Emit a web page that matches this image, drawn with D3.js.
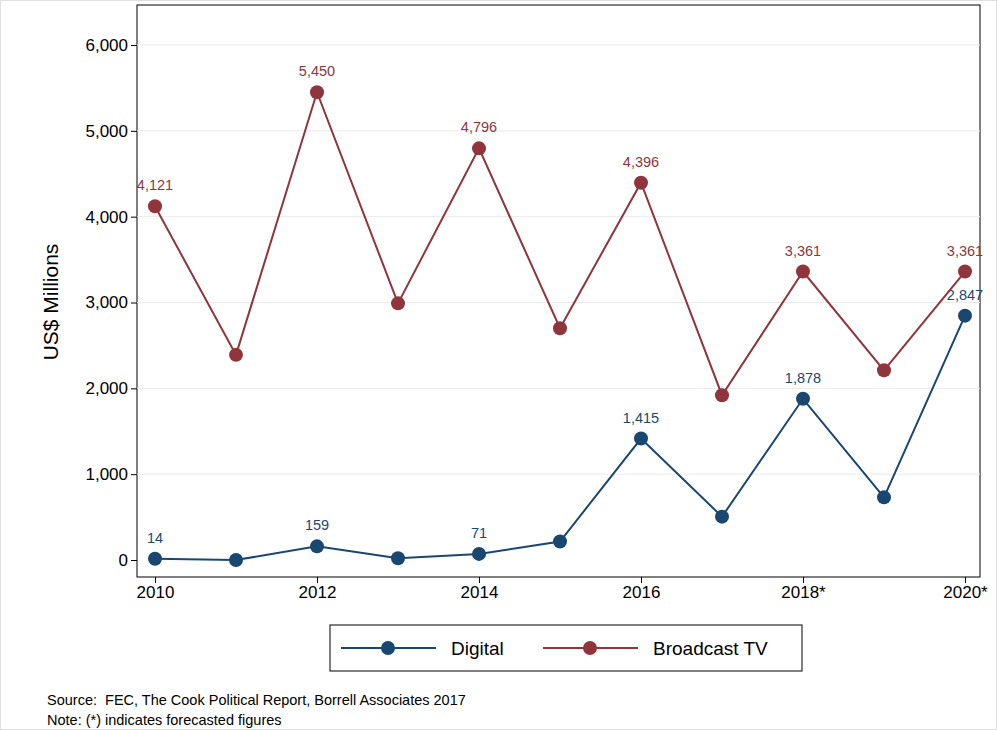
<!DOCTYPE html>
<html><head><meta charset="utf-8">
<script src="https://cdn.jsdelivr.net/npm/d3@7"></script>
<style>body{margin:0;background:#fff;font-family:"Liberation Sans",Arial,sans-serif}</style>
</head><body><svg id="c" width="997" height="730"></svg>
<script>
var years = [2010,2011,2012,2013,2014,2015,2016,2017,2018,2019,2020];
var tickLabels = ["2010","2012","2014","2016","2018*","2020*"];
var digital = [14,0,159,20,71,215,1415,505,1878,730,2847];
var broadcast = [4121,2390,5450,2990,4796,2700,4396,1920,3361,2210,3361];
var labeled = [2010,2012,2014,2016,2018,2020];

var svg = d3.select("#c");
svg.append("rect").attr("x",0.5).attr("y",0.5).attr("width",996).attr("height",729)
  .attr("fill","#fff").attr("stroke","#e0e0e0");
var x = d3.scaleLinear().domain([2010,2020]).range([155,965]);
var y = d3.scaleLinear().domain([0,6000]).range([560,45]);

svg.append("rect").attr("x",137).attr("y",5).attr("width",843).attr("height",572)
  .attr("fill","none").attr("stroke","#000").attr("stroke-width",1);

var ya = svg.append("g").attr("transform","translate(137,0)")
  .call(d3.axisLeft(y).tickValues(d3.range(0,6001,1000)).tickFormat(d3.format(",")).tickSize(6));
ya.select(".domain").remove();
ya.selectAll("text").attr("font-size",17).attr("font-family","Liberation Sans, Arial").attr("fill","#000");
svg.append("g").selectAll("line").data(d3.range(1000,6001,1000)).join("line")
  .attr("x1",137).attr("x2",980).attr("y1",d=>y(d)).attr("y2",d=>y(d))
  .attr("stroke","#eaeaea");

var xa = svg.append("g").attr("transform","translate(0,577)")
  .call(d3.axisBottom(x).tickValues(labeled).tickFormat((d,i)=>tickLabels[i]).tickSize(6));
xa.select(".domain").remove();
xa.selectAll("text").attr("font-size",17).attr("font-family","Liberation Sans, Arial").attr("fill","#000");

svg.append("text").attr("transform","translate(58,302) rotate(-90)").attr("text-anchor","middle")
  .attr("font-size",21).text("US$ Millions");

var series = [{v:digital,c:"#1a476f",name:"Digital"},{v:broadcast,c:"#90353b",name:"Broadcast TV"}];
var line = d3.line().x((d,i)=>x(years[i])).y(d=>y(d));
series.forEach(function(s){
  svg.append("path").datum(s.v).attr("d",line).attr("fill","none").attr("stroke",s.c).attr("stroke-width",2);
  svg.append("g").selectAll("circle").data(s.v).join("circle")
    .attr("cx",(d,i)=>x(years[i])).attr("cy",d=>y(d)).attr("r",7).attr("fill",s.c);
  svg.append("g").selectAll("text").data(s.v.map((d,i)=>({d:d,yr:years[i]})).filter(p=>labeled.includes(p.yr)))
    .join("text").attr("x",p=>x(p.yr)).attr("y",p=>y(p.d)-16).attr("text-anchor","middle")
    .attr("font-size",14.5).attr("fill",s.c).text(p=>d3.format(",")(p.d));
});

var lg = svg.append("g");
lg.append("rect").attr("x",330).attr("y",625).attr("width",472).attr("height",46).attr("fill","#fff").attr("stroke","#000");
series.forEach(function(s,i){
  var x0 = i===0 ? 341 : 543;
  lg.append("line").attr("x1",x0).attr("x2",x0+95).attr("y1",648).attr("y2",648).attr("stroke",s.c).attr("stroke-width",2);
  lg.append("circle").attr("cx",x0+47).attr("cy",648).attr("r",7).attr("fill",s.c);
  lg.append("text").attr("x",x0+110).attr("y",655).attr("font-size",19).text(s.name);
});

svg.append("text").attr("x",47).attr("y",705).attr("font-size",14.5).attr("xml:space","preserve").text("Source:  FEC, The Cook Political Report, Borrell Associates 2017");
svg.append("text").attr("x",47).attr("y",725).attr("font-size",14.5).text("Note: (*) indicates forecasted figures");
</script></body></html>
